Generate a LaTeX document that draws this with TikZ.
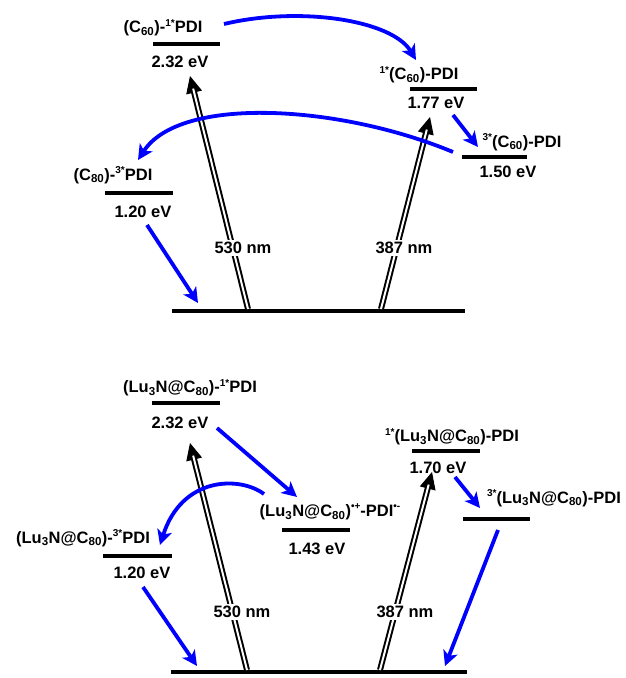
\documentclass[tikz,border=0pt]{standalone}
\usepackage{fontspec}
\setmainfont{Liberation Sans}
\usetikzlibrary{arrows.meta}
\newcommand\lowr[1]{\textsubscript{#1}}
\newcommand\upr[1]{\raisebox{6.5pt}{\fontsize{10}{10}\selectfont #1}}
\begin{document}
\begin{tikzpicture}[x=1pt,y=-1pt,
  font=\bfseries\fontsize{16.5}{19}\selectfont,
  txt/.style={inner sep=0pt},
  lvl/.style={line width=4.5pt},
  et/.style={draw=blue, line width=3.8pt, -{Stealth[length=15pt,width=15pt,inset=4pt]}},
  exc/.style={double, double distance=2pt, line width=2pt, shorten >=13pt},
  exctip/.style={line width=1pt, -{Triangle[length=17pt,width=16pt]}},
  wl/.style={fill=white, inner sep=2pt}]
\useasboundingbox (0,0) rectangle (625,678);

% ---------- upper scheme: C60-PDI ----------
\node[txt] (tA) at (163,28) {(C\lowr{60})-\upr{1*}PDI};
\draw[lvl] (153,44) -- (220,44);
\node[txt] (eA) at (180,62) {2.32 eV};

\node[txt] (tB) at (419,75) {\upr{1*}(C\lowr{60})-PDI};
\draw[lvl] (410,89) -- (477,89);
\node[txt] (eB) at (436,103) {1.77 eV};

\node[txt] (tC) at (522,142) {\upr{3*}(C\lowr{60})-PDI};
\draw[lvl] (462,157) -- (527,157);
\node[txt] (eC) at (508,172) {1.50 eV};

\node[txt] (tD) at (113,175) {(C\lowr{80})-\upr{3*}PDI};
\draw[lvl] (105,193) -- (173,193);
\node[txt] (eD) at (143,212) {1.20 eV};

\draw[lvl] (172,311) -- (465,311);

% excitation arrows
\coordinate (gA) at (248,309); \coordinate (xA) at (190,76);
\coordinate (gB) at (381,309); \coordinate (xB) at (430,117);
\draw[exctip] (gA) -- (xA);
\draw[exc] (gA) -- (xA);
\draw[exctip] (gB) -- (xB);
\draw[exc] (gB) -- (xB);
\node[wl] (wA) at (243,248) {530 nm};
\node[wl] (wB) at (404,248) {387 nm};

% transfer steps
\coordinate (a1) at (224,24);  \coordinate (a2) at (416,60);
\coordinate (b1) at (453,152); \coordinate (b2) at (138,160);
\coordinate (c1) at (453,115); \coordinate (c2) at (478,147);
\coordinate (d1) at (147,225); \coordinate (d2) at (198,303);
\draw[et] (a1) .. controls (300,6) and (392,20) .. (a2);
\draw[et] (b1) .. controls (340,105) and (180,95) .. (b2);
\draw[et] (c1) -- (c2);
\draw[et] (d1) -- (d2);

% ---------- lower scheme: Lu3N@C80-PDI ----------
\node[txt] (tE) at (190,388) {(Lu\lowr{3}N@C\lowr{80})-\upr{1*}PDI};
\draw[lvl] (152,403) -- (220,403);
\node[txt] (eE) at (180,423) {2.32 eV};

\node[txt] (tF) at (452,437) {\upr{1*}(Lu\lowr{3}N@C\lowr{80})-PDI};
\draw[lvl] (412,451) -- (480,451);
\node[txt] (eF) at (438,468) {1.70 eV};

\node[txt] (tG) at (554,498) {\upr{3*}(Lu\lowr{3}N@C\lowr{80})-PDI};
\draw[lvl] (463,519) -- (530,519);

\node[txt] (tH) at (330,512) {(Lu\lowr{3}N@C\lowr{80})\upr{•+}-PDI\upr{•-}};
\draw[lvl] (282,530) -- (350,530);
\node[txt] (eH) at (317,549) {1.43 eV};

\node[txt] (tI) at (83,538) {(Lu\lowr{3}N@C\lowr{80})-\upr{3*}PDI};
\draw[lvl] (103,556) -- (172,556);
\node[txt] (eI) at (142,573) {1.20 eV};

\draw[lvl] (171,672) -- (467,672);

% excitation arrows
\coordinate (gE) at (247,670); \coordinate (xE) at (190,443);
\coordinate (gF) at (380,670); \coordinate (xF) at (432,472);
\draw[exctip] (gE) -- (xE);
\draw[exc] (gE) -- (xE);
\draw[exctip] (gF) -- (xF);
\draw[exc] (gF) -- (xF);
\node[wl] (wE) at (242,612) {530 nm};
\node[wl] (wF) at (405,612) {387 nm};

% transfer steps
\coordinate (e1) at (217,428); \coordinate (e2) at (297,497);
\coordinate (f1) at (264,494); \coordinate (f2) at (160,545);
\coordinate (h1) at (455,477); \coordinate (h2) at (480,508);
\coordinate (k1) at (498,530); \coordinate (k2) at (445,666);
\coordinate (m1) at (143,587); \coordinate (m2) at (197,666);
\draw[et] (e1) -- (e2);
\draw[et] (f1) .. controls (240,476) and (182,476) .. (f2);
\draw[et] (h1) -- (h2);
\draw[et] (k1) -- (k2);
\draw[et] (m1) -- (m2);
\end{tikzpicture}
\end{document}
